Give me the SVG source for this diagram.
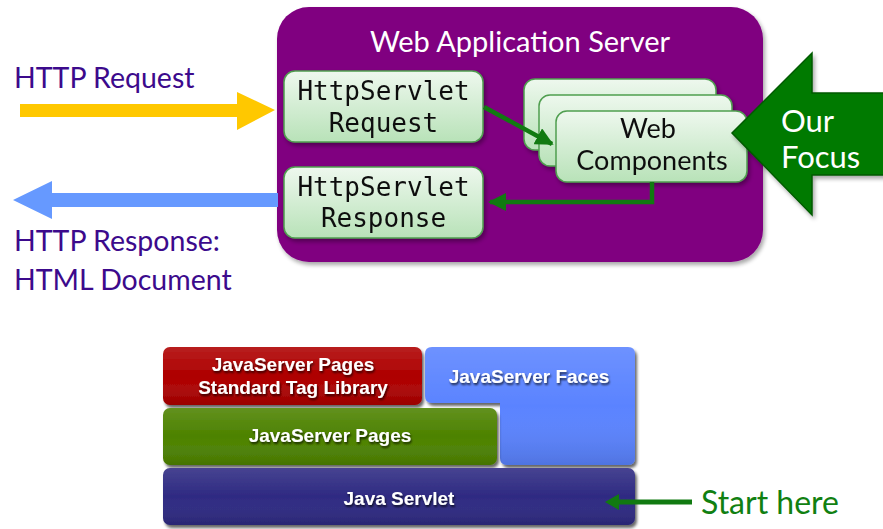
<svg xmlns="http://www.w3.org/2000/svg" width="883" height="529" viewBox="0 0 883 529">
  <defs>
    <linearGradient id="nodeFill" x1="0" y1="0" x2="0" y2="1">
      <stop offset="0" stop-color="#eef8ee"/>
      <stop offset="1" stop-color="#b8e2b8"/>
    </linearGradient>
    <linearGradient id="gloss" x1="0" y1="0" x2="0" y2="1">
      <stop offset="0" stop-color="#ffffff" stop-opacity="0.12"/>
      <stop offset="0.5" stop-color="#ffffff" stop-opacity="0"/>
      <stop offset="1" stop-color="#000000" stop-opacity="0.12"/>
    </linearGradient>
    <filter id="softShadow" x="-10%" y="-10%" width="125%" height="130%">
      <feGaussianBlur in="SourceAlpha" stdDeviation="2"/>
      <feOffset dx="2" dy="3" result="b"/>
      <feComponentTransfer><feFuncA type="linear" slope="0.35"/></feComponentTransfer>
      <feMerge><feMergeNode/><feMergeNode in="SourceGraphic"/></feMerge>
    </filter>
    <filter id="blockShadow" x="-10%" y="-10%" width="125%" height="140%">
      <feGaussianBlur in="SourceAlpha" stdDeviation="1.5"/>
      <feOffset dx="2" dy="3" result="b"/>
      <feComponentTransfer><feFuncA type="linear" slope="0.6"/></feComponentTransfer>
      <feMerge><feMergeNode/><feMergeNode in="SourceGraphic"/></feMerge>
    </filter>
    <filter id="textShadow" x="-5%" y="-20%" width="115%" height="160%">
      <feGaussianBlur in="SourceAlpha" stdDeviation="0.8"/>
      <feOffset dx="1" dy="1.5" result="b"/>
      <feComponentTransfer><feFuncA type="linear" slope="0.7"/></feComponentTransfer>
      <feMerge><feMergeNode/><feMergeNode in="SourceGraphic"/></feMerge>
    </filter>
    <marker id="greenHead" viewBox="0 0 10 10" refX="9" refY="5" markerWidth="4" markerHeight="4" markerUnits="strokeWidth" orient="auto">
      <path d="M0,0 L10,5 L0,10 z" fill="#117a11"/>
    </marker>
  </defs>
  <style>
    .label { font-family: Lato, "Open Sans", "Liberation Sans", sans-serif; }
    .purple { fill: #3c0a8c; font-size: 28.5px; }
    .mono { font-family: "DejaVu Sans Mono", "Liberation Mono", monospace; font-size: 26px; fill: #111; text-anchor: middle; }
    .node { fill: url(#nodeFill); stroke: #4f9e4f; stroke-width: 1.5; }
    .blockText { font-family: "Liberation Sans", Arial, sans-serif; font-weight: bold; font-size: 19px; fill: #fff; text-anchor: middle; }
    .conn { fill: none; stroke: #117a11; stroke-width: 4.5; }
  </style>

  <!-- Web application server container -->
  <g id="server">
    <rect x="277" y="7" width="486" height="255" rx="32" fill="#800080" filter="url(#softShadow)"/>
    <text class="label" x="520" y="52" font-size="29" fill="#fff" text-anchor="middle">Web Application Server</text>
  </g>

  <!-- Request / response nodes -->
  <g id="request" filter="url(#softShadow)">
    <rect class="node" x="284" y="71" width="199" height="71" rx="11"/>
    <text class="mono" x="383.5" y="100">HttpServlet</text>
    <text class="mono" x="383.5" y="132">Request</text>
  </g>
  <g id="response" filter="url(#softShadow)">
    <rect class="node" x="284" y="167" width="199" height="71" rx="11"/>
    <text class="mono" x="383.5" y="196">HttpServlet</text>
    <text class="mono" x="383.5" y="227">Response</text>
  </g>

  <!-- Stack of web components -->
  <g id="components" filter="url(#softShadow)">
    <rect class="node" x="524" y="79" width="192" height="71" rx="11"/>
    <rect class="node" x="539" y="95" width="193" height="71" rx="11"/>
    <rect class="node" x="556" y="111" width="191" height="71" rx="11"/>
    <text class="label" x="648" y="138" font-size="27" fill="#111" text-anchor="middle">Web</text>
    <text class="label" x="652" y="170" font-size="27" fill="#111" text-anchor="middle">Components</text>
  </g>

  <!-- Connectors -->
  <g id="connectors">
    <path class="conn" d="M484,107 L552,144" marker-end="url(#greenHead)"/>
    <path class="conn" d="M652,182 L652,202 L490,202" marker-end="url(#greenHead)"/>
    <!-- incoming request -->
    <path d="M20,104 L237,104 L237,92 L275,110 L237,130 L237,117 L20,117 z" fill="#ffc800"/>
    <!-- outgoing response -->
    <path d="M278,193 L52,193 L52,181 L13,200 L52,219 L52,207 L278,207 z" fill="#6699ff"/>
  </g>

  <!-- Side labels -->
  <g id="labels">
    <text class="label purple" x="14" y="88">HTTP Request</text>
    <text class="label purple" x="14" y="251">HTTP Response:</text>
    <text class="label purple" x="14" y="290">HTML Document</text>
  </g>

  <!-- Focus callout -->
  <g id="focus">
    <path d="M732,133 L812,53 L812,93 L890,93 L890,175 L812,175 L812,215 z" fill="#037a03" stroke="#025a02" stroke-width="1.5" filter="url(#softShadow)"/>
    <text class="label" x="781" y="132" font-size="31" fill="#fff">Our</text>
    <text class="label" x="781" y="168" font-size="31" fill="#fff">Focus</text>
  </g>

  <!-- Technology stack -->
  <g id="jstl" filter="url(#blockShadow)">
    <rect x="163" y="347" width="259" height="58" rx="7" fill="#ae0000"/>
    <rect x="163" y="347" width="259" height="58" rx="7" fill="url(#gloss)"/>
    <g filter="url(#textShadow)">
      <text class="blockText" x="293" y="371">JavaServer Pages</text>
      <text class="blockText" x="293" y="394">Standard Tag Library</text>
    </g>
  </g>
  <g id="jsf" filter="url(#blockShadow)">
    <path d="M432,347 L628,347 Q635,347 635,354 L635,458 Q635,465 628,465 L507,465 Q500,465 500,458 L500,403 L432,403 Q425,403 425,396 L425,354 Q425,347 432,347 z" fill="#5a83ff"/>
    <path d="M432,347 L628,347 Q635,347 635,354 L635,458 Q635,465 628,465 L507,465 Q500,465 500,458 L500,403 L432,403 Q425,403 425,396 L425,354 Q425,347 432,347 z" fill="url(#gloss)"/>
    <text class="blockText" x="529" y="383" filter="url(#textShadow)">JavaServer Faces</text>
  </g>
  <g id="jsp" filter="url(#blockShadow)">
    <rect x="163" y="408" width="334" height="57" rx="7" fill="#4d8200"/>
    <rect x="163" y="408" width="334" height="57" rx="7" fill="url(#gloss)"/>
    <text class="blockText" x="330" y="442" filter="url(#textShadow)">JavaServer Pages</text>
  </g>
  <g id="servlet" filter="url(#blockShadow)">
    <rect x="163" y="468" width="472" height="57" rx="7" fill="#2e2a82"/>
    <rect x="163" y="468" width="472" height="57" rx="7" fill="url(#gloss)"/>
    <text class="blockText" x="399" y="505" filter="url(#textShadow)">Java Servlet</text>
  </g>

  <!-- Pointer to the servlet layer -->
  <g id="start">
    <path d="M692,502 L615,502" stroke="#117a11" stroke-width="5" fill="none"/>
    <path d="M605,502 L619,494 L619,510 z" fill="#117a11"/>
    <text class="label" x="701" y="514" font-size="32" fill="#118011">Start here</text>
  </g>
</svg>
